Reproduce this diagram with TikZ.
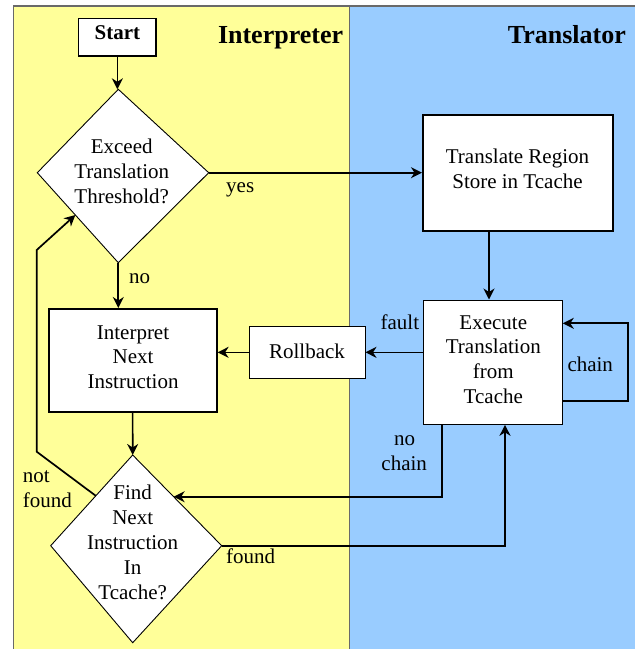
\documentclass[tikz,border=0pt]{standalone}
\usepackage{fontspec}
\setmainfont{Liberation Serif}
\usetikzlibrary{arrows.meta,calc}
\definecolor{yellowbg}{RGB}{255,255,153}
\definecolor{bluebg}{RGB}{153,204,255}
\definecolor{bgline}{RGB}{105,105,105}
\begin{document}
\begin{tikzpicture}[x=1pt,y=-1pt,
  txt/.style={font=\fontsize{21}{24.8}\selectfont, inner sep=0pt, align=center},
  lbl/.style={font=\fontsize{21}{24.8}\selectfont, inner sep=0pt, anchor=base},
  hdr/.style={font=\fontsize{26}{30}\selectfont\bfseries, inner sep=0pt},
  box/.style={draw=black, fill=white, inner sep=0pt, line width=1pt},
  boxthick/.style={box, line width=2pt},
  arr/.style={line width=1.7pt, -{Stealth[length=11pt,width=11pt,inset=3.5pt]}},
  diam/.style={draw=black, fill=white, line width=0.9pt, line join=miter},
  lane/.style={draw=bgline, line width=1.2pt},
]
\useasboundingbox (0,0) rectangle (635,649);
% swimlanes
\fill[yellowbg] (13.3,6) rectangle (349.3,660);
\fill[bluebg] (349.3,6) rectangle (650,660);
\draw[lane] (13.3,660) -- (13.3,6) -- (650,6);
\draw[lane] (349.3,6) -- (349.3,660);
\node[hdr, anchor=base west] (interpH) at (217.8,43.3) {Interpreter};
\node[hdr, anchor=base east] (transH) at (626,43.3) {Translator};

% boxes
\node[box, line width=1.2pt, minimum width=77.3pt, minimum height=37.7pt,
      font=\fontsize{21}{24.8}\selectfont\bfseries, text height=14pt, text depth=9.7pt]
      (start) at (117.35,37.15) {Start};
\node[boxthick, minimum width=189.5pt, minimum height=116pt] (trans) at (517.75,173) {};
\node[txt] (transT) at (517.5,169) {Translate Region\\Store in Tcache};
\node[box, minimum width=139pt, minimum height=124.3pt] (exec) at (492.8,362.15) {};
\node[txt] (execT) at (493.3,359.5) {Execute\\Translation\\from\\Tcache};
\node[boxthick, minimum width=168pt, minimum height=102.7pt] (interp) at (132.6,360.35) {};
\node[txt] (interpT) at (133,357.2) {Interpret\\Next\\Instruction};
\node[box, minimum width=116pt, minimum height=51.3pt,
      font=\fontsize{21}{24.8}\selectfont, text height=14pt, text depth=2.1pt]
      (roll) at (307,352.35) {Rollback};

% diamonds
\coordinate (d1t) at (118.3,89.3);
\coordinate (d1r) at (208.7,172.7);
\coordinate (d1b) at (118.3,262.7);
\coordinate (d1l) at (37.3,172.7);
\draw[diam] (d1t) -- (d1r) -- (d1b) -- (d1l) -- cycle;
\node[txt] (d1T) at (121.7,171.5) {Exceed\\Translation\\Threshold?};
\coordinate (d2t) at (132.7,455);
\coordinate (d2r) at (221.7,545.7);
\coordinate (d2b) at (132.7,642.7);
\coordinate (d2l) at (50.7,545.7);
\draw[diam] (d2t) -- (d2r) -- (d2b) -- (d2l) -- cycle;
\node[txt] (d2T) at (132.7,542.4) {Find\\Next\\Instruction\\In\\Tcache?};

% connectors
\draw[arr] (start.south) -- (start.south |- d1t);
\draw[arr] (d1r) -- (d1r -| trans.west);
\draw[arr] ([xshift=-3.8pt]exec.north |- trans.south) -- ([xshift=-3.8pt]exec.north);
\draw[arr] (d1b) -- (d1b |- interp.north);
\draw[arr] (interp.south) -- (d2t);
\draw[arr] (exec.west |- roll.east) -- (roll.east);
\draw[arr] (roll.west) -- (roll.west -| interp.east);
\coordinate (chainR) at (628.3,362);
\draw[arr] ([yshift=-38.85pt]exec.east) -| (chainR) |- ([yshift=38.85pt]exec.east);
\draw[arr] ([xshift=19pt]exec.south west) |- ($(d2t)!0.46!(d2r)$);
\draw[arr] (d2r) -| ([xshift=12.2pt]exec.south);
\coordinate (nf1) at (36.7,451.7);
\coordinate (nf2) at (36.7,250);
\draw[arr] ($(d2t)!0.45!(d2l)$) -- (nf1) -- (nf2) -- ($(d1l)!0.47!(d1b)$);

% labels
\node[lbl, anchor=base west] (yesL) at (226,192.5) {yes};
\node[lbl, anchor=base west] (noL) at (129,283) {no};
\node[lbl, anchor=base east] (faultL) at (419.3,329.3) {fault};
\node[lbl, anchor=base west] (chainL) at (567.3,371) {chain};
\node[lbl] (nochainA) at (404.5,445) {no};
\node[lbl] (nochainB) at (404.2,470) {chain};
\node[lbl, anchor=base west] (notfoundA) at (22.7,482.7) {not};
\node[lbl, anchor=base west] (notfoundB) at (22.7,507.3) {found};
\node[lbl, anchor=base west] (foundL) at (226,563.3) {found};
\end{tikzpicture}
\end{document}
